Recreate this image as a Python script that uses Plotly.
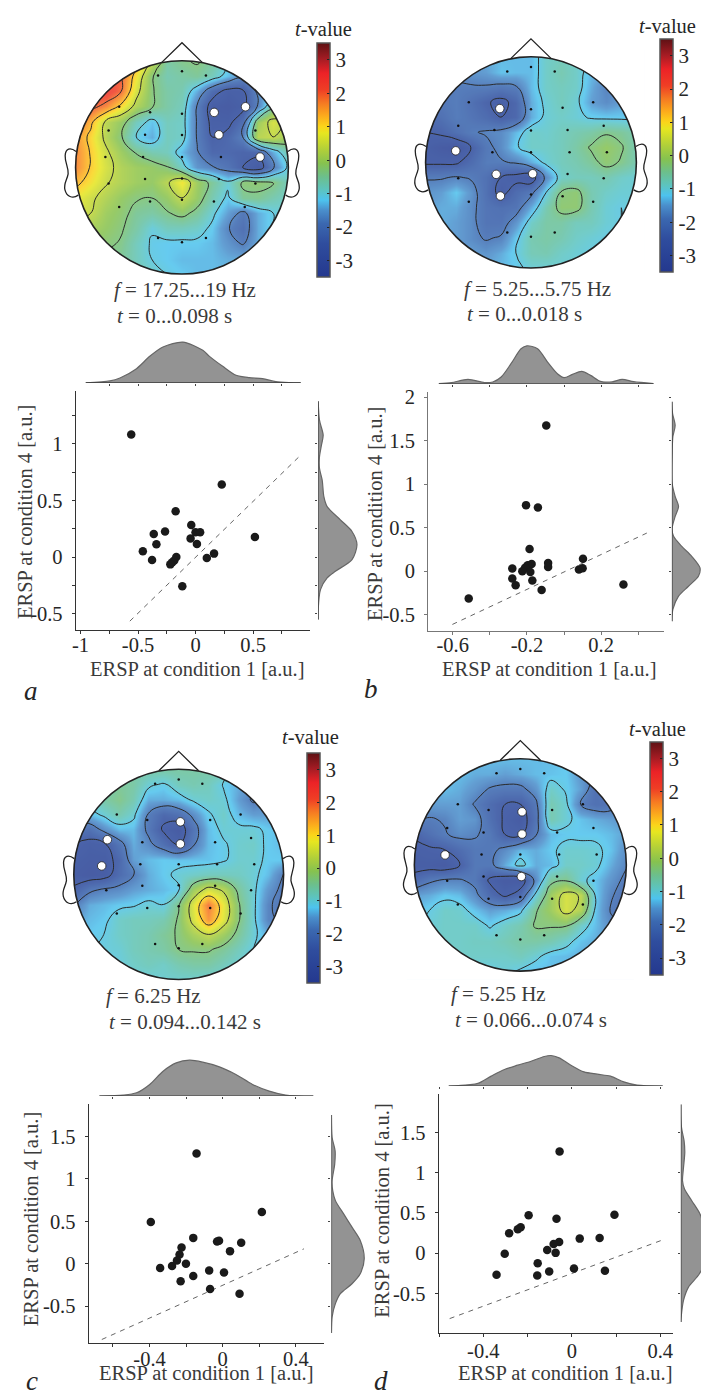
import plotly.graph_objects as go
import numpy as np

W, H = 701, 1396
FONT = "Liberation Serif"
TXT = "#262626"

# ---------- t-value maps: coarse samples (top row = front of the head)
map_a = [
 [2.3,2.3,2.3,2.2,1.5,.4,-.6,-.4,-.3,-.5,-1,-1.4,-1.4,-1.2,-1.2],
 [2.3,2.3,2.3,2.0,.9,-.3,-.7,-.6,-.5,-.8,-1.3,-1.7,-1.5,-1.2,-1.2],
 [2.2,2.2,2.4,1.9,.6,-.3,-.6,-.7,-1.4,-2.3,-2.8,-2.7,-1.7,-1.2,-1.1],
 [2.0,2.1,1.7,1.0,.2,-.3,-.6,-.8,-1.9,-2.9,-3.0,-2.8,-1.8,-.5,-.5],
 [2.0,1.3,.3,-.1,-.8,-1.25,-.8,-.9,-1.9,-2.8,-2.8,-2.2,0,.6,.3],
 [1.6,1.0,.25,-.3,-1.1,-1.4,-.8,-.9,-1.9,-2.6,-2.4,-1.8,.3,.4,0],
 [1.7,1.1,.5,0,-.4,-.7,-.8,-1.3,-1.8,-2.4,-2.4,-2.5,-2.4,-1.4,-.7],
 [1.7,1.1,.6,.2,0,-.1,-.3,-.9,-1.6,-1.8,-2.1,-2.6,-3.0,-1.9,-1.0],
 [1.3,.9,.45,.2,0,-.1,.3,.9,0,-.5,-1.0,-.25,-.2,-.3,-.8],
 [.8,.5,.2,-.1,-.3,-.35,-.1,.4,-.1,-.7,-1.2,-.5,-.45,-.7,-.9],
 [.6,.4,0,-.2,-.5,-.6,-.4,-.2,-.5,-1,-1.5,-2.0,-1.4,-1.1,-1.0],
 [.2,.1,-.1,-.3,-.6,-1.05,-.8,-.8,-.9,-1.2,-1.8,-2.2,-1.4,-1.1,-1.0],
 [0,-.2,-.25,-.4,-.8,-1.15,-1.2,-1.2,-1.2,-1.3,-1.6,-1.9,-1.4,-1.2,-1.0],
 [-.3,-.4,-.5,-.5,-.8,-1.1,-1.2,-1.3,-1.3,-1.3,-1.4,-1.4,-1.3,-1.2,-1.0],
 [-.5,-.5,-.6,-.6,-.7,-.9,-1.1,-1.2,-1.3,-1.3,-1.3,-1.3,-1.2,-1.1,-1.0],
]
map_b = [
 [-2,-2,-1.8,-1.6,-1.4,-1.3,-1.3,-1.3,-.9,-.8,-.9,-1.1,-1.3,-1.4,-1.4],
 [-2,-2,-1.8,-1.6,-1.5,-1.25,-1.3,-1.3,-.9,-.7,-.9,-1.3,-1.5,-1.5,-1.4],
 [-2,-2,-1.9,-1.9,-1.9,-2,-1.9,-1.3,-.9,-.8,-.9,-1.4,-1.8,-1.6,-1.4],
 [-2,-2,-1.9,-2.2,-2.5,-2.8,-2.4,-1.4,-1,-.8,-1,-1.5,-1.7,-1.5,-1.4],
 [-2.3,-2.2,-1.9,-2.1,-2.3,-2.6,-2.4,-1.4,-1,-.9,-1,-1.15,-1.2,-1.2,-1.2],
 [-2.6,-2.5,-2.2,-1.9,-1.8,-1.7,-1.3,-.9,-.95,-.8,-.7,-.6,-.4,-.5,-.7],
 [-2.8,-3,-3.1,-2.6,-2.0,-1.7,-1.15,-.9,-.9,-.8,-.6,-.3,-.1,-.3,-.7],
 [-2.7,-2.7,-2.7,-2.3,-1.9,-1.9,-1.8,-1.4,-1.0,-.8,-.7,-.5,-.2,-.4,-.7],
 [-1.9,-1.9,-1.8,-1.9,-2.2,-2.6,-2.8,-3,-1.7,-.9,-.8,-.8,-.7,-.9,-1],
 [-1.6,-1.5,-1.2,-1.6,-2.2,-2.8,-2.3,-2.0,-1.1,-.3,-.2,-.7,-.9,-1,-1],
 [-1.5,-1.4,-1.4,-1.7,-2.1,-2.2,-2.1,-1.4,-.7,-.2,-.2,-.7,-1,-1.1,-1],
 [-1.4,-1.4,-1.5,-1.7,-2.1,-2.1,-1.6,-.9,-.6,-.6,-.8,-.8,-1,-1.1,-1],
 [-1.4,-1.5,-1.5,-1.7,-1.9,-1.8,-1.2,-.7,-.6,-.7,-.9,-1,-1.1,-1.1,-1],
 [-1.4,-1.5,-1.5,-1.5,-1.6,-1.4,-1.1,-.75,-.7,-.9,-1,-1.1,-1.1,-1,-1],
 [-1.3,-1.4,-1.4,-1.4,-1.4,-1.3,-1.2,-1,-1,-1,-1,-1,-1,-1,-1],
]
map_c = [
 [-1.2,-1.2,-1,-.9,-.6,-.6,-.6,-.6,-.6,-.6,-.6,-1.2,-1.5,-1.6,-1.6],
 [-1,-.9,-.7,-.5,-.6,-1,-1.15,-.8,-.7,-.8,-1.15,-1.4,-1.6,-1.6,-1.5],
 [-1.3,-.9,-.6,-.4,-.7,-1.4,-1.4,-1.3,-1,-.9,-1,-1.5,-1.95,-1.7,-1.5],
 [-1.5,-1.3,-1.0,-.7,-1,-1.9,-2.4,-2.2,-1.7,-1.15,-.9,-1.3,-1.5,-1.5,-1.4],
 [-2.1,-2.2,-1.7,-1.3,-1.3,-2.0,-2.7,-3.0,-2.1,-1.3,-1,-1,-1,-1.2,-1.3],
 [-2.6,-2.8,-2.7,-2.1,-1.4,-1.7,-2.2,-2.7,-1.9,-1.3,-1.15,-.95,-.9,-1.2,-1.3],
 [-2.8,-2.9,-2.9,-2.4,-1.5,-1.3,-1.2,-1.25,-1.25,-1.25,-1.15,-.95,-.95,-1.2,-1.2],
 [-2.9,-3,-2.9,-2.3,-1.9,-1.4,-1.2,-1.0,-.9,-.8,-.8,-.85,-1,-1.3,-1.9],
 [-2.5,-2,-1.8,-1.7,-1.5,-1.4,-1.3,-1.15,0,.6,.3,-.5,-1,-1.6,-2],
 [-1.9,-1.4,-1.3,-1.2,-1.15,-1,-1.1,-.4,.7,1.85,.8,-.3,-1,-1.8,-2],
 [-1.5,-1.3,-1.2,-.9,-.8,-.8,-.7,-.3,.6,1.6,.7,-.3,-1,-1.8,-1.9],
 [-1.3,-1.2,-1.1,-.9,-.8,-.7,-.5,-.3,.1,.4,0,-.5,-1,-1.4,-1.6],
 [-1.2,-1.15,-1.05,-1,-.8,-.7,-.6,-.35,-.3,-.3,-.5,-.8,-1.1,-1.3,-1.4],
 [-1.2,-1.2,-1.2,-1.05,-.9,-.8,-.9,-.7,-.6,-.6,-.8,-1,-1.1,-1.2,-1.2],
 [-1.2,-1.2,-1.2,-1.2,-1.1,-1.05,-.95,-.95,-.95,-1,-1,-1,-1,-1,-1],
]
map_d = [
 [-1.5,-1.5,-1.4,-1.3,-1.3,-1.3,-1.3,-1.3,-1.3,-1.3,-1.2,-1.4,-1.6,-1.7,-1.6],
 [-1.5,-1.4,-1.3,-1.3,-1.4,-1.4,-1.5,-1.4,-1.3,-1.25,-1.2,-1.6,-1.9,-1.8,-1.6],
 [-1.5,-1.4,-1.3,-1.4,-1.6,-1.9,-2,-2,-1.6,-.9,-1.15,-1.5,-2.2,-2,-1.7],
 [-1.6,-1.5,-1.5,-1.5,-1.9,-2.3,-2.6,-2.6,-2.0,-.7,-1,-1.9,-2.2,-2.1,-1.7],
 [-1.8,-1.9,-1.8,-1.5,-1.6,-2.2,-2.7,-3.0,-2.1,-.7,-1,-1.25,-1.4,-1.5,-1.6],
 [-2.5,-2.2,-1.9,-1.7,-1.8,-2.0,-2.6,-2.7,-1.9,-1.3,-1.2,-1.2,-1.2,-1.3,-1.5],
 [-2.8,-2.7,-2.6,-2.3,-2.0,-2.0,-1.7,-1.3,-1.4,-1.2,-.95,-.95,-1,-1.25,-1.7],
 [-2.9,-2.9,-3.0,-2.6,-2.0,-2.0,-1.4,-.95,-1.4,-1.3,-.9,-.9,-1,-1.4,-1.8],
 [-2.3,-1.95,-1.8,-1.8,-2.0,-2.7,-3.0,-3.0,-1.7,-.5,-.4,-1.0,-1.25,-1.6,-2],
 [-1.5,-1.4,-1.2,-1.3,-1.7,-2.3,-2.7,-2.3,-1,0,.6,.35,-1.2,-1.8,-2.1],
 [-1.3,-1.1,-.9,-.95,-1.25,-1.5,-1.4,-1.2,-.4,0,.6,.2,-1.25,-1.9,-2.1],
 [-1.2,-1,-.9,-.9,-.9,-1.15,-.9,-.7,-.3,-.3,-.3,-.9,-1.3,-1.7,-1.9],
 [-1.1,-1,-.9,-.9,-.85,-.85,-.75,-.6,-.6,-.7,-.95,-1.25,-1.4,-1.6,-1.7],
 [-1,-1,-.9,-.9,-.9,-.9,-.9,-.8,-1,-1.25,-1.3,-1.4,-1.5,-1.5,-1.5],
 [-1.1,-1.1,-1.1,-1.1,-1.1,-1.1,-1.0,-1.15,-1.3,-1.3,-1.3,-1.4,-1.4,-1.4,-1.4],
]
grid_pos = [-1,-.857,-.714,-.571,-.429,-.286,-.143,0,.143,.286,.429,.571,.714,.857,1]

# electrodes, head coordinates
elec_x = [-.225,0,.225, -.59,-.30,0,.30,.59, -.69,-.347,0,.347,.69, -.72,-.366,0,.366,.72,
          -.69,-.347,0,.347,.69, -.59,-.30,0,.30,.59, -.225,0,.225]
elec_y = [.862,.903,.862, .57,.518,.503,.518,.57, .347,.306,.303,.306,.347, .097,.097,.097,.097,.097,
          -.15,-.109,-.103,-.109,-.15, -.372,-.319,-.303,-.319,-.372, -.663,-.703,-.663]
sig_a_x, sig_a_y = [.303,.597,.347,.734], [.516,.569,.306,.097]
sig_b_x, sig_b_y = [-.296,-.714,-.33,.016,-.29], [.51,.11,-.113,-.107,-.318]
sig_c_x, sig_c_y = [.016,.016,-.68,-.734], [.5,.29,.33,.08]
sig_d_x, sig_d_y = [.016,.016,-.71,.01], [.5,.29,.094,-.11]

cb_ticks = [-3,-2,-1,0,1,2,3]
cb_text = ["-3","-2","-1","0","1","2","3"]
colorscale_stops = [(-3.5,"#24388e"),(-2.5,"#2f4d9e"),(-1.9,"#3b68b0"),(-1.5,"#4a8fcc"),(-1.2,"#4dc3ee"),
                    (-.9,"#5cc4c0"),(-.5,"#6cbf8c"),(-.1,"#86c24f"),(.3,"#b0cf3a"),(.8,"#e6e620"),
                    (1.0,"#fbd51a"),(1.3,"#fcae1c"),(1.7,"#f67a22"),(2.1,"#ef3e25"),(2.6,"#ec2227"),
                    (3.0,"#a81c24"),(3.5,"#5e1114")]
colorscale = [[(v+3.5)/7, c] for v, c in colorscale_stops]

# ---------- scatter data
a_x = [-.559,.228,-.173,-.037,-.265,-.363,0,.04,-.043,.012,-.34,.516,-.458,-.378,-.167,-.185,-.202,-.219,.098,.161,-.115]
a_y = [1.084,.64,.405,.282,.226,.203,.22,.22,.164,.115,.112,.176,.05,-.026,0,-.03,-.047,-.065,-.009,.03,-.258]
b_x = [-.096,-.205,-.141,-.186,.102,-.086,-.086,-.175,-.196,-.21,-.279,-.225,-.182,.08,.1,-.279,-.261,-.171,-.121,-.514,.32]
b_y = [1.676,.76,.733,.256,.145,.095,.05,.084,.069,.04,.031,0,-.008,.019,.034,-.084,-.16,-.107,-.214,-.313,-.153]
c_x = [-.143,-.393,.214,-.161,-.225,-.236,-.25,-.277,-.201,-.342,-.23,-.161,-.074,-.069,.007,.092,-.031,-.02,.04,.101]
c_y = [1.299,.493,.611,.305,.192,.11,.039,-.027,0,-.051,-.207,-.145,-.078,-.297,-.102,-.352,.262,.27,.149,.247]
d_x = [-.055,-.195,.193,-.069,-.231,-.244,-.283,-.057,-.082,.036,.126,-.111,-.073,-.303,-.154,-.34,-.156,-.102,.01,.15]
d_y = [1.262,.47,.478,.429,.322,.297,.247,.14,.115,.181,.19,.041,.004,-.008,-.124,-.268,-.276,-.227,-.19,-.219]

a_dash = ([-.571,.894],[-.567,.881])
b_dash = ([-.602,.446],[-.611,.439])
c_dash = ([-.661,.444],[-.892,.176])
d_dash = ([-.552,.423],[-.812,.177])

# ---------- marginal densities
a_top_x = [-.954,-.744,-.657,-.513,-.398,-.283,-.11,.063,.121,.236,.352,.467,.582,.698,.813,.914]
a_top_d = [0,2,5,14.3,26.7,36,41,32.7,26.7,16.7,7.7,5.3,4.3,1.3,.3,0]
a_right_y = [1.377,1.21,1.078,.99,.887,.784,.681,.534,.446,.329,.226,.109,-.023,-.126,-.185,-.288,-.464,-.552]
a_right_d = [0,1.3,5,3.3,1.3,1.3,4,5.7,9,22.3,34,39,34,17.3,9,2.3,0,0]
b_top_x = [-.675,-.607,-.518,-.429,-.384,-.339,-.286,-.232,-.2,-.143,-.089,-.036,0,.045,.095,.143,.196,.259,.313,.375,.482]
b_top_d = [0,1,4.3,1,1.7,6.7,20,35,38,35,21.7,10,6,9.3,12.3,8.3,2.3,1.7,4.3,2,0]
b_right_y = [1.947,1.813,1.676,1.546,1.355,1.011,.859,.744,.63,.496,.401,.286,.172,.038,-.057,-.172,-.286,-.439,-.573]
b_right_d = [0,.7,3.3,1,.3,.3,3.3,6.7,3.3,.3,1.7,10,20,28.3,26.7,16.7,6.7,1,0]
c_top_x = [-.674,-.543,-.471,-.399,-.326,-.254,-.181,-.109,-.018,.072,.163,.254,.344,.495]
c_top_d = [0,1,3.3,11.7,25,33.3,36,34,29.3,21.7,11.7,5,1,0]
c_right_y = [1.753,1.487,1.331,1.174,.978,.861,.744,.587,.431,.274,.059,-.117,-.235,-.352,-.47,-.626,-.814]
c_right_d = [0,.7,3.7,3.3,.7,1.3,4,12.3,20.7,29,33,29,20.7,9,4,.7,0]
d_top_x = [-.556,-.469,-.424,-.364,-.304,-.244,-.184,-.124,-.094,-.057,-.004,.055,.115,.175,.235,.295,.411]
d_top_d = [0,1.3,2.7,10,16.7,21,25,29.7,30.7,28.3,21,14.3,12,10,4.3,1,0]
d_right_y = [1.847,1.559,1.394,1.249,1.064,.899,.796,.652,.487,.322,.033,-.256,-.421,-.586,-.751,-.854]
d_right_d = [0,.7,3.3,4,2.7,1.7,3.7,11,19.3,23.3,28,18.7,7.7,2.7,.7,0]

# ---------- ticks
a_xticks = [-1,-.75,-.5,-.25,0,.25,.5,.75]
a_xtext = ["-1","","-0.5","","0","","0.5",""]
a_yticks = [-.5,-.25,0,.25,.5,.75,1,1.25]
a_ytext = ["-0.5","","0","","0.5","","1",""]
b_xticks = [-.6,-.4,-.2,0,.2,.4]
b_xtext = ["-0.6","","-0.2","","0.2",""]
b_yticks = [-.5,0,.5,1,1.5,2]
b_ytext = ["-0.5","0","0.5","1","1.5","2"]
c_xticks = [-.6,-.4,-.2,0,.2,.4]
c_xtext = ["","-0.4","","0","","0.4"]
c_yticks = [-.5,0,.5,1,1.5]
c_ytext = ["-0.5","0","0.5","1","1.5"]
d_xticks = [-.6,-.4,-.2,0,.2,.4]
d_xtext = ["","-0.4","","0","","0.4"]
d_yticks = [-.5,0,.5,1,1.5]
d_ytext = ["-0.5","0","0.5","1","1.5"]

XLAB = "ERSP at condition 1 [a.u.]"
YLAB = "ERSP at condition 4 [a.u.]"

fig = go.Figure()
layout = dict(width=W, height=H, autosize=False, margin=dict(l=0,r=0,t=0,b=0,pad=0),
              paper_bgcolor="white", plot_bgcolor="rgba(0,0,0,0)", showlegend=False,
              font=dict(family=FONT, color=TXT, size=20))
shapes, annots = [], []
n_ax = [0]

def fx(px): return px / W
def fy(py): return 1 - py / H

def new_axes(xd, yd, xopts, yopts):
    n_ax[0] += 1
    n = n_ax[0]
    xa = "xaxis" if n == 1 else f"xaxis{n}"
    ya = "yaxis" if n == 1 else f"yaxis{n}"
    xr = "x" if n == 1 else f"x{n}"
    yr = "y" if n == 1 else f"y{n}"
    base = dict(showgrid=False, zeroline=False)
    layout[xa] = dict(base, domain=[fx(xd[0]), fx(xd[1])], anchor=yr, **xopts)
    layout[ya] = dict(base, domain=[fy(yd[1]), fy(yd[0])], anchor=xr, **yopts)
    return xr, yr

def text(px, py, s, size=20.5, xanchor="center", angle=0, color=TXT):
    annots.append(dict(x=fx(px), y=fy(py), xref="paper", yref="paper", text=s, showarrow=False,
                       xanchor=xanchor, yanchor="middle", textangle=angle, borderpad=0,
                       font=dict(family=FONT, size=size, color=color)))

K = .5523
def head(cx, cy, r, zmap, sigx, sigy, cb, title_xy, cap1, cap1_xy, cap2, cap2_xy):
    hidden = dict(visible=False, range=[-1.3,1.3], fixedrange=True)
    xr, yr = new_axes((cx-1.3*r, cx+1.3*r), (cy-1.3*r, cy+1.3*r), hidden, hidden)
    fig.add_trace(go.Heatmap(x=grid_pos, y=grid_pos[::-1], z=zmap, zmin=-3.5, zmax=3.5, zsmooth="best",
        colorscale=colorscale, xaxis=xr, yaxis=yr, opacity=.86, hoverinfo="skip",
        colorbar=dict(x=fx(cb[0]), xanchor="left", y=fy(cb[1]), yanchor="top", lenmode="pixels", len=cb[2],
                      thicknessmode="pixels", thickness=12.5, xpad=0, ypad=0, tickmode="array",
                      tickvals=cb_ticks, ticktext=cb_text, ticks="inside", ticklen=3, tickwidth=1,
                      tickcolor="#222", outlinecolor="#555", outlinewidth=1.5, borderwidth=0,
                      tickfont=dict(family=FONT, size=21, color=TXT))))
    fig.add_trace(go.Contour(x=grid_pos, y=grid_pos[::-1], z=zmap, autocontour=False,
        contours=dict(start=-2.6, end=2.7, size=.75, coloring="none"),
        line=dict(color="#2a2a2a", width=1, smoothing=1.3), showscale=False, xaxis=xr, yaxis=yr, hoverinfo="skip"))
    fig.add_trace(go.Scatter(x=elec_x, y=elec_y, mode="markers", xaxis=xr, yaxis=yr,
        marker=dict(size=2.5, color="#111"), hoverinfo="skip"))
    fig.add_trace(go.Scatter(x=sigx, y=sigy, mode="markers", xaxis=xr, yaxis=yr,
        marker=dict(size=8.5, color="white", line=dict(color="#222", width=.8)), hoverinfo="skip"))
    o = 1.08
    c = (f"M 1 0 C 1 {K} {K} 1 0 1 C {-K} 1 -1 {K} -1 0 C -1 {-K} {-K} -1 0 -1 C {K} -1 1 {-K} 1 0 Z")
    shapes.append(dict(type="path", xref=xr, yref=yr, layer="above", fillcolor="white", line=dict(width=0),
                       path=f"M {-o} {-o} L {o} {-o} L {o} {o} L {-o} {o} Z " + c))
    shapes.append(dict(type="path", xref=xr, yref=yr, layer="above", line=dict(color="#222", width=1.6), path=c))
    shapes.append(dict(type="path", xref=xr, yref=yr, layer="above", line=dict(color="#222", width=1.3),
                       path="M -.19 .985 L 0 1.17 L .19 .985"))
    for s in (-1, 1):
        ear = (f"M {s*.995} .15 C {s*1.05} .19 {s*1.095} .18 {s*1.098} .11 C {s*1.10} .04 {s*1.065} 0 {s*1.07} -.06 "
               f"C {s*1.08} -.12 {s*1.115} -.15 {s*1.10} -.21 C {s*1.085} -.27 {s*1.03} -.30 {s*.975} -.26")
        shapes.append(dict(type="path", xref=xr, yref=yr, layer="above", line=dict(color="#222", width=1.3), path=ear))
    text(title_xy[0], title_xy[1], "<i>t</i>-value", size=20.5)
    text(cap1_xy[0], cap1_xy[1], cap1, size=21, xanchor="left", color="#3a3a3a")
    text(cap2_xy[0], cap2_xy[1], cap2, size=21, xanchor="left", color="#3a3a3a")

def panel(box, xrange, yrange, x, y, dash, xt, xl, yt, yl, axcol, standoff,
          top_x, top_d, top_dom, top_ticks, right_y, right_d, right_dom, right_ticks,
          xlab_xy, ylab_xy, letter, letter_xy):
    tf = dict(family=FONT, size=20.5, color=TXT)
    xr, yr = new_axes((box[0], box[1]), (box[2], box[3]),
        dict(range=xrange, tickmode="array", tickvals=xt, ticktext=xl, ticks="outside", ticklen=3, tickwidth=1,
             tickcolor=axcol, showline=True, linecolor=axcol, linewidth=1.4, tickfont=tf, ticklabelstandoff=standoff, tickangle=0, fixedrange=True),
        dict(range=yrange, tickmode="array", tickvals=yt, ticktext=yl, ticks="outside", ticklen=3, tickwidth=1,
             tickcolor=axcol, showline=True, linecolor=axcol, linewidth=1.4, tickfont=tf, ticklabelstandoff=5, fixedrange=True))
    fig.add_trace(go.Scatter(x=dash[0], y=dash[1], mode="lines", xaxis=xr, yaxis=yr,
                             line=dict(color="#666", width=1, dash="5px,5px"), hoverinfo="skip"))
    fig.add_trace(go.Scatter(x=x, y=y, mode="markers", xaxis=xr, yaxis=yr,
                             marker=dict(size=8.5, color="#1a1a1a"), hoverinfo="skip"))
    # top density
    h = top_dom[0] - top_dom[1]
    xr2, yr2 = new_axes((box[0], box[1]), (top_dom[1], top_dom[0]),
        dict(range=xrange, tickmode="array", tickvals=top_ticks, showticklabels=False, ticks="outside", ticklen=2,
             tickcolor="#444", showline=False, fixedrange=True),
        dict(range=[0, h], visible=False, fixedrange=True))
    fig.add_trace(go.Scatter(x=top_x, y=top_d, mode="lines", fill="tozeroy", fillcolor="#939393", xaxis=xr2, yaxis=yr2,
                             line=dict(color="#666", width=1.2, shape="spline", smoothing=.8), hoverinfo="skip"))
    fig.add_trace(go.Scatter(x=[top_x[0], top_x[-1]], y=[0, 0], mode="lines", xaxis=xr2, yaxis=yr2,
                             line=dict(color="#3a3a3a", width=1.3), hoverinfo="skip"))
    # right density
    w = right_dom[1] - right_dom[0]
    xr3, yr3 = new_axes((right_dom[0], right_dom[1]), (box[2], box[3]),
        dict(range=[0, w], visible=False, fixedrange=True),
        dict(range=yrange, tickmode="array", tickvals=right_ticks, showticklabels=False, ticks="outside", ticklen=2,
             tickcolor="#444", showline=False, fixedrange=True))
    fig.add_trace(go.Scatter(x=right_d, y=right_y, mode="lines", fill="tozerox", fillcolor="#939393", xaxis=xr3, yaxis=yr3,
                             line=dict(color="#666", width=1.2, shape="spline", smoothing=.8), hoverinfo="skip"))
    fig.add_trace(go.Scatter(x=[0, 0], y=[right_y[0], right_y[-1]], mode="lines", xaxis=xr3, yaxis=yr3,
                             line=dict(color="#3a3a3a", width=1.3), hoverinfo="skip"))
    text(xlab_xy[0], xlab_xy[1], XLAB, color="#3a3a3a")
    text(ylab_xy[0], ylab_xy[1], YLAB, angle=-90, color="#3a3a3a")
    text(letter_xy[0], letter_xy[1], f"<i>{letter}</i>", size=27)

head(179,163,107,map_a,sig_a_x,sig_a_y,(315,38.3,233.5),(321,24),"<i>f</i> = 17.25...19 Hz",(110,286),"<i>t</i> = 0...0.098 s",(112.7,311.7))
head(530,158,106,map_b,sig_b_x,sig_b_y,(660,34.3,232.5),(667,21),"<i>f</i> = 5.25...5.75 Hz",(461.7,285),"<i>t</i> = 0...0.018 s",(465,310))
head(175.7,872.5,105.5,map_c,sig_c_x,sig_c_y,(304.3,750.7,230),(308,735),"<i>f</i> = 6.25 Hz",(101.7,995),"<i>t</i> = 0.094...0.142 s",(105,1021))
head(519.3,863,106.6,map_d,sig_d_x,sig_d_y,(649.3,739.3,233.4),(657,727),"<i>f</i> = 5.25 Hz",(449,993),"<i>t</i> = 0.066...0.074 s",(452.7,1019))

panel((72.3,308,387,627),[-1.04,.997],[-.643,1.471],a_x,a_y,a_dash,a_xticks,a_xtext,a_yticks,a_ytext,"#333",-7,
      a_top_x,a_top_d,(379.3,335),a_xticks[1:],a_right_y,a_right_d,(316,358),a_yticks,
      (194,666.7),(21,509),"a",(26.7,688))
panel((426.7,663.3,388.3,628.3),[-.732,.536],[-.687,2.061],b_x,b_y,b_dash,b_xticks,b_xtext,b_yticks,b_ytext,"#777",-8,
      b_top_x,b_top_d,(380,338),b_xticks,b_right_y,b_right_d,(671.7,701),b_yticks,
      (548,666.7),(373,511),"b",(369,686.7))
panel((85.3,321.7,1103.3,1342.7),[-.732,.553],[-.932,1.878],c_x,c_y,c_dash,c_xticks,c_xtext,c_yticks,c_ytext,"#333",-6,
      c_top_x,c_top_d,(1095,1055),c_xticks,c_right_y,c_right_d,(329.3,365),c_yticks,
      (203.5,1373),(26.7,1219),"c",(28,1380.5))
panel((437.3,672.7,1093.3,1332.7),[-.601,.457],[-.99,1.972],d_x,d_y,d_dash,d_xticks,d_xtext,d_yticks,d_ytext,"#333",-4,
      d_top_x,d_top_d,(1085,1050),d_xticks,d_right_y,d_right_d,(680.7,701),d_yticks,
      (564,1373),(380.7,1210.5),"d",(379,1380.5))

layout["shapes"] = shapes
layout["annotations"] = annots
fig.update_layout(**layout)
fig.write_html("out.html", config=dict(displayModeBar=False),
               post_script="document.body.style.margin='0';document.documentElement.style.overflow='hidden';")
